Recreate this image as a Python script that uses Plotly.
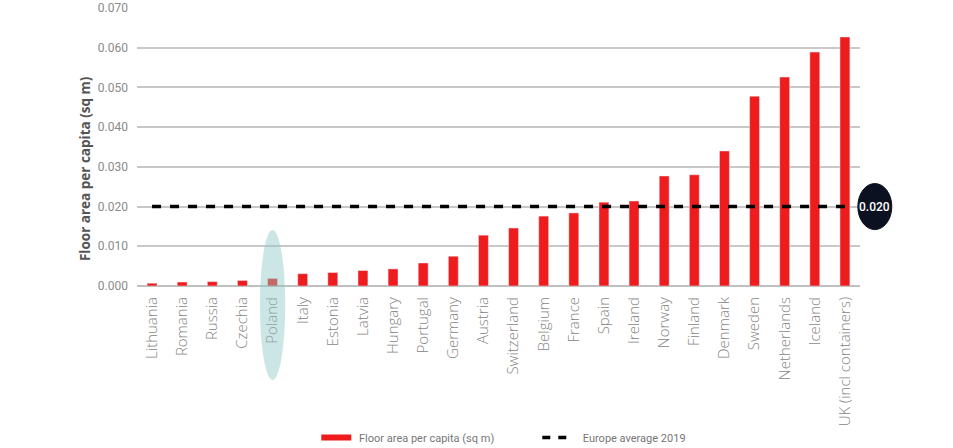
import plotly.graph_objects as go

countries = ["Lithuania", "Romania", "Russia", "Czechia", "Poland", "Italy", "Estonia",
             "Latvia", "Hungary", "Portugal", "Germany", "Austria", "Switzerland",
             "Belgium", "France", "Spain", "Ireland", "Norway", "Finland", "Denmark",
             "Sweden", "Netherlands", "Iceland", "UK (incl containers)"]
floor_area = [0.0007, 0.0010, 0.0011, 0.0014, 0.0019, 0.0031, 0.0034, 0.0039, 0.0043,
              0.0058, 0.0075, 0.0128, 0.0146, 0.0176, 0.0184, 0.0211, 0.0214, 0.0277,
              0.0280, 0.0340, 0.0478, 0.0526, 0.0589, 0.0627]
europe_avg = 0.020
y_ticks = [0.0, 0.01, 0.02, 0.03, 0.04, 0.05, 0.06, 0.07]
y_tick_labels = ["0.000", "0.010", "0.020", "0.030", "0.040", "0.050", "0.060", "0.070"]
y_title = "Floor area per capita (sq m)"

RED = "#ee1c1c"
fig = go.Figure()
fig.add_trace(go.Bar(x=countries, y=floor_area, marker_color=RED, width=0.33,
                     showlegend=False, name="Floor area per capita (sq m)"))
fig.add_trace(go.Scatter(x=countries, y=[europe_avg] * len(countries), mode="lines",
                         line=dict(color="black", width=3.5, dash="9px,9px"),
                         showlegend=False, name="Europe average 2019"))
# legend entries
fig.add_trace(go.Scatter(x=[None], y=[None], mode="lines", line=dict(color=RED, width=6),
                         name=" Floor area per capita (sq m)"))
fig.add_trace(go.Scatter(x=[None], y=[None], mode="lines",
                         line=dict(color="black", width=3.5, dash="8px,8px"),
                         name="  Europe average 2019"))

# highlight ellipse on Poland
pi = countries.index("Poland")
fig.add_shape(type="circle", xref="x", yref="paper", x0=pi - 0.42, x1=pi + 0.42,
              y0=-0.338, y1=0.201, fillcolor="rgba(140,200,195,0.45)", line_width=0,
              layer="above")
# badge
fig.add_shape(type="circle", xref="paper", yref="y", x0=0.997, x1=1.044,
              y0=europe_avg - 0.0058, y1=europe_avg + 0.0058, fillcolor="#0b1120",
              line=dict(color="#0b1120", width=1), layer="above")
fig.add_annotation(xref="paper", yref="y", x=1.0205, y=europe_avg, text="0.020",
                   showarrow=False, xanchor="center", yanchor="middle",
                   font=dict(color="#ffffff", size=12, family="Roboto", weight=500))
# y-axis title
fig.add_annotation(xref="paper", yref="paper", x=-0.072, y=0.424, text="<b>" + y_title + "</b>",
                   textangle=-90, showarrow=False, xanchor="center", yanchor="middle",
                   font=dict(size=13.5, color="#555555", family="Open Sans"))

fig.update_layout(
    width=953, height=448,
    margin=dict(l=137, r=93, t=8, b=162, autoexpand=False),
    plot_bgcolor="white", paper_bgcolor="white",
    font=dict(family="Open Sans", color="#666666"),
    legend=dict(orientation="h", x=0.248, y=-0.545, xanchor="left", yanchor="middle",
                font=dict(size=11, color="#777777", family="Roboto"),
                itemwidth=30, tracegroupgap=0, entrywidth=176),
    xaxis=dict(tickangle=-90, tickfont=dict(size=15, color="#858585", family="Open Sans",
                                             weight=300),
               showgrid=False, showline=False, ticks="outside", ticklen=4, tickcolor="white",
               automargin=False, range=[-0.5, len(countries) - 0.5]),
    yaxis=dict(range=[0, 0.07], tickvals=y_ticks, ticktext=y_tick_labels, automargin=False,
               gridcolor="#c8c8c8", gridwidth=1.5, zeroline=True, zerolinecolor="#c0c0c0",
               zerolinewidth=2, showline=False,
               tickfont=dict(size=12, color="#8a8a8a", family="Roboto"),
               ticklabelstandoff=8),
)
fig.write_html("out.html", post_script="document.body.style.margin='0';",
               config={"displayModeBar": False})
